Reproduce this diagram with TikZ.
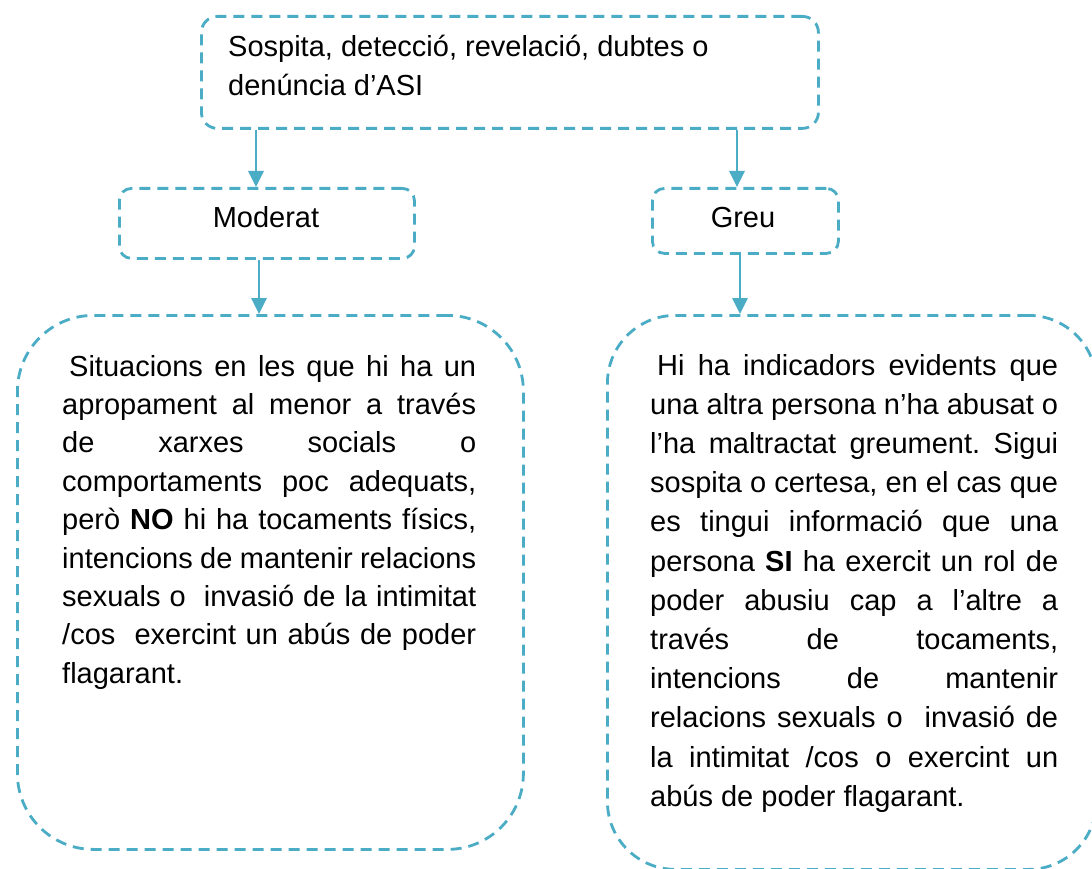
\documentclass[tikz,border=0pt]{standalone}
\usepackage{fontspec}
\setmainfont{Liberation Sans}
\usetikzlibrary{arrows.meta}
\definecolor{aqua}{HTML}{4BACC6}
\newcommand{\jl}[1]{\makebox[\linewidth][s]{#1}\\}
\frenchspacing
\begin{document}
\begin{tikzpicture}[x=1pt,y=-1pt,
  dbox/.style={draw=aqua, line width=2.8pt, dash pattern=on 11pt off 7pt, inner sep=0pt},
  conn/.style={draw=aqua, line width=2.8pt, -{Triangle[width=15pt,length=16pt]}},
  txt/.style={inner sep=0pt, font=\fontsize{29}{38.4}\selectfont}]
\useasboundingbox[fill=white] (0,0) rectangle (1092,869);

% boxes
\node[dbox, rounded corners=16pt, minimum width=617pt, minimum height=112pt, anchor=north west] (top) at (200,15) {};
\node[dbox, rounded corners=12pt, minimum width=295pt, minimum height=70pt, anchor=north west] (mod) at (118,187) {};
\node[dbox, rounded corners=12pt, minimum width=186pt, minimum height=65pt, anchor=north west] (greu) at (651,187) {};
\node[dbox, rounded corners=76pt, minimum width=506pt, minimum height=534pt, anchor=north west] (lbox) at (16,314) {};
\node[dbox, rounded corners=68pt, minimum width=489pt, minimum height=554pt, anchor=north west] (rbox) at (606,314) {};

% texts
\node[txt, anchor=base] (modt) at (266,228) {Moderat};
\node[txt, anchor=base] (greut) at (743,227) {Greu};
\node[txt, anchor=base west] (ttext) at (228,57) {\parbox[t]{580pt}{\raggedright Sospita, detecció, revelació, dubtes o\\ denúncia d’ASI}};

\node[txt, anchor=base west] (ltext) at (62,376) {\parbox[t]{414pt}{%
\jl{\hspace*{7pt}Situacions en les que hi ha un}
\jl{apropament al menor a través}
\jl{de xarxes socials o}
\jl{comportaments poc adequats,}
\jl{però \textbf{NO} hi ha tocaments físics,}
\jl{intencions de mantenir relacions}
\jl{sexuals o\ \ invasió de la intimitat}
\jl{/cos\ \ exercint un abús de poder}
flagarant.}};

\node[txt, anchor=base west, font=\fontsize{29}{39.2}\selectfont] (rtext) at (650,375) {\parbox[t]{408pt}{%
\jl{\hspace*{7pt}Hi ha indicadors evidents que}
\jl{una altra persona n’ha abusat o}
\jl{l’ha maltractat greument. Sigui}
\jl{sospita o certesa, en el cas que}
\jl{es tingui informació que una}
\jl{persona \textbf{SI} ha exercit un rol de}
\jl{poder abusiu cap a l’altre a}
\jl{través de tocaments,}
\jl{intencions de mantenir}
\jl{relacions sexuals o\ \ invasió de}
\jl{la intimitat /cos o exercint un}
abús de poder flagarant.}};

% connectors
\coordinate (a1) at (256,0);
\coordinate (a2) at (259,0);
\coordinate (b1) at (737,0);
\coordinate (b2) at (740,0);
\draw[conn] (top.south -| a1) -- (mod.north -| a1);
\draw[conn] (mod.south -| a2) -- (lbox.north -| a2);
\draw[conn] (top.south -| b1) -- (greu.north -| b1);
\draw[conn] (greu.south -| b2) -- (rbox.north -| b2);
\end{tikzpicture}
\end{document}
